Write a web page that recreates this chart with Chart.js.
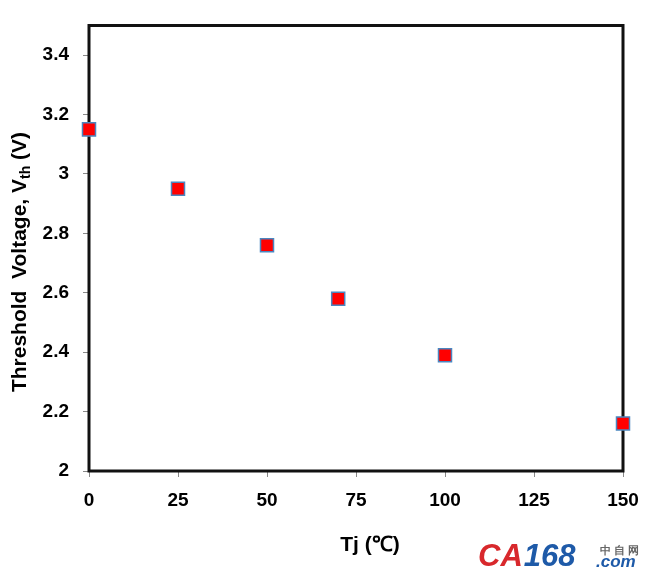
<!DOCTYPE html>
<html>
<head>
<meta charset="utf-8">
<script src="https://cdn.jsdelivr.net/npm/chart.js@4/dist/chart.umd.min.js"></script>
<style>
  html, body { margin: 0; padding: 0; background: #fff; }
  #wrap { width: 658px; height: 583px; }
</style>
</head>
<body>
<div id="wrap"><canvas id="chart"></canvas></div>
<script>
// data
var tjValues = [0, 25, 50, 70, 100, 150];
var vthValues = [3.15, 2.95, 2.76, 2.58, 2.39, 2.16];
var xTicks = [0, 25, 50, 75, 100, 125, 150];
var yTicks = [2, 2.2, 2.4, 2.6, 2.8, 3, 3.2, 3.4];

var FONT = "'Liberation Sans', Arial, sans-serif";

var points = tjValues.map(function (t, i) { return { x: t, y: vthValues[i] }; });

// frame, axis titles and watermark
var extras = {
    id: 'extras',
    beforeDatasetsDraw: function (chart) {
        var ctx = chart.ctx;
        var a = chart.chartArea;
        ctx.save();
        ctx.lineWidth = 3;
        ctx.strokeStyle = '#111';
        ctx.beginPath();
        ctx.moveTo(a.left, a.bottom);
        ctx.lineTo(a.left, a.top);
        ctx.lineTo(a.right, a.top);
        ctx.lineTo(a.right, a.bottom);
        ctx.closePath();
        ctx.stroke();
        ctx.restore();
    },
    afterDraw: function (chart) {
        var ctx = chart.ctx;
        ctx.save();
        // x title
        ctx.fillStyle = '#000';
        ctx.font = 'bold 21px ' + FONT;
        ctx.textAlign = 'center';
        ctx.textBaseline = 'middle';
        ctx.fillText('Tj (\u2103)', 370, 545);

        // y title with subscript
        ctx.translate(20, 262);
        ctx.rotate(-Math.PI / 2);
        var p1 = 'Threshold  Voltage, V';
        var sub = 'th';
        var p2 = ' (V)';
        ctx.font = 'bold 21px ' + FONT;
        var w1 = ctx.measureText(p1).width;
        var w3 = ctx.measureText(p2).width;
        ctx.font = 'bold 14px ' + FONT;
        var w2 = ctx.measureText(sub).width;
        var x0 = -(w1 + w2 + w3) / 2;
        ctx.textAlign = 'left';
        ctx.font = 'bold 21px ' + FONT;
        ctx.fillText(p1, x0, 0);
        ctx.font = 'bold 14px ' + FONT;
        ctx.fillText(sub, x0 + w1, 6);
        ctx.font = 'bold 21px ' + FONT;
        ctx.fillText(p2, x0 + w1 + w2, 0);
        ctx.restore();

        // watermark
        ctx.save();
        ctx.textBaseline = 'alphabetic';
        ctx.textAlign = 'left';
        ctx.font = 'italic bold 31px ' + FONT;
        ctx.fillStyle = '#d8282c';
        ctx.fillText('CA', 478, 566);
        var wc = ctx.measureText('CA').width;
        ctx.fillStyle = '#1e5aa8';
        ctx.fillText('168', 478 + wc + 1, 566);
        ctx.font = 'bold 11px ' + FONT;
        ctx.fillStyle = '#666';
        ctx.fillText('\u4e2d \u81ea \u7f51', 600, 554);
        ctx.font = 'italic bold 17px ' + FONT;
        ctx.fillStyle = '#1e5aa8';
        ctx.fillText('.com', 596, 567);
        ctx.restore();
    }
};

new Chart(document.getElementById('chart'), {
    type: 'scatter',
    data: {
        datasets: [{
            data: points,
            pointStyle: 'rect',
            pointRadius: 9.2,
            pointHoverRadius: 9.2,
            backgroundColor: '#ff0000',
            borderColor: '#4a86c0',
            borderWidth: 1.5,
            clip: false
        }]
    },
    options: {
        responsive: true,
        maintainAspectRatio: false,
        animation: false,
        layout: { padding: { left: 0, top: 23, right: 35, bottom: 72 } },
        plugins: { legend: { display: false }, tooltip: { enabled: false } },
        scales: {
            x: {
                type: 'linear',
                min: 0, max: 150,
                afterBuildTicks: function (s) { s.ticks = xTicks.map(function (v) { return { value: v }; }); },
                afterFit: function (s) { s.height = 40; },
                grid: { drawOnChartArea: false, tickLength: 6, color: '#888' },
                border: { display: false },
                ticks: { padding: 12, color: '#000', font: { family: FONT, size: 19, weight: 'bold' } }
            },
            y: {
                type: 'linear',
                min: 2, max: 3.5,
                afterBuildTicks: function (s) { s.ticks = yTicks.map(function (v) { return { value: v }; }); },
                afterFit: function (s) { s.width = 89; },
                grid: { drawOnChartArea: false, tickLength: 6, color: '#888' },
                border: { display: false },
                ticks: {
                    padding: 14, color: '#000', font: { family: FONT, size: 19, weight: 'bold' },
                    callback: function (v) { return String(Math.round(v * 10) / 10); }
                }
            }
        }
    },
    plugins: [extras]
});
</script>
</body>
</html>
